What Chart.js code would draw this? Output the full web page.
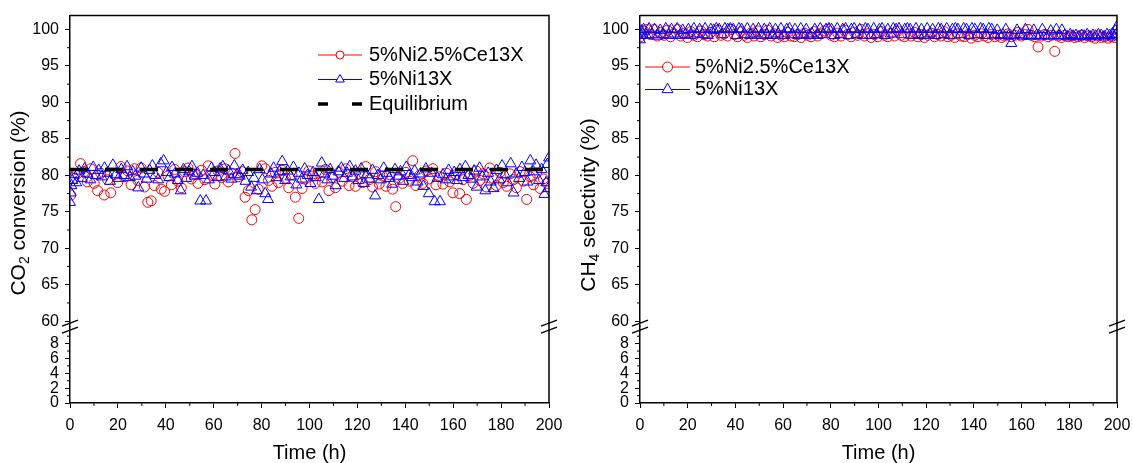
<!DOCTYPE html>
<html>
<head>
<meta charset="utf-8">
<script src="https://cdn.jsdelivr.net/npm/chart.js@4.4.0/dist/chart.umd.min.js"></script>
<style>
  html, body { margin: 0; padding: 0; background: #fff; }
  #wrap { position: relative; width: 1132px; height: 463px; }
  .panel { position: absolute; top: 0; width: 566px; height: 463px; }
</style>
</head>
<body>
<div id="wrap">
  <div class="panel" style="left:0"><canvas id="co2Chart" width="566" height="463"></canvas></div>
  <div class="panel" style="left:566px"><canvas id="ch4Chart" width="566" height="463"></canvas></div>
</div>
<script>
const FONT = '"Liberation Sans", Arial, Helvetica, sans-serif';
const RED = '#ff0000';
const BLUE = '#0000ff';

// 5%Ni2.5%Ce13X sampling times (h) and values
const timeNiCe = [0.3, 1.6, 3.0, 4.4, 5.9, 7.2, 8.6, 10.1, 11.5, 12.8, 14.3, 15.7, 17.0, 18.5, 19.9, 21.3, 22.6, 24.1, 25.5, 26.9,
  28.3, 29.7, 31.1, 32.5, 33.9, 35.2, 36.7, 38.1, 39.5, 40.9, 42.3, 43.7, 45.0, 46.5, 47.9, 49.3, 50.7, 52.1, 53.4, 54.9,
  56.3, 57.7, 59.1, 60.5, 61.8, 63.3, 64.7, 66.1, 67.5, 68.9, 70.2, 71.7, 73.1, 74.5, 75.9, 77.3, 78.6, 80.1, 81.5, 82.9,
  84.3, 85.7, 87.0, 88.5, 89.9, 91.3, 92.7, 94.1, 95.5, 96.9, 98.3, 99.7, 101.1, 102.4, 103.9, 105.3, 106.7, 108.1, 109.5, 110.8,
  112.3, 113.7, 115.1, 116.5, 117.9, 119.2, 120.7, 122.1, 123.5, 124.9, 126.3, 127.6, 129.1, 130.5, 131.9, 133.3, 134.7, 136.0, 137.5, 138.9,
  140.3, 141.7, 143.1, 144.4, 145.9, 147.3, 148.7, 150.1, 151.5, 152.8, 154.3, 155.7, 157.1, 158.5, 159.9, 161.2, 162.7, 164.1, 165.5, 166.9,
  168.3, 169.6, 171.1, 172.5, 173.9, 175.3, 176.7, 178.0, 179.5, 180.9, 182.3, 183.7, 185.1, 186.4, 187.9, 189.3, 190.7, 192.1, 193.5, 194.8,
  196.3, 197.7, 199.1];
const co2NiCe = [77.3, 79.6, 80.2, 81.6, 80.5, 79.1, 80.9, 78.9, 77.9, 80.3, 77.3, 79.4, 77.6, 80.1, 79.0, 81.2, 79.8, 80.6, 78.7, 80.9,
  79.3, 81.0, 78.4, 76.3, 76.5, 78.6, 80.4, 78.1, 77.8, 79.9, 78.7, 80.8, 79.2, 78.3, 80.5, 81.0, 79.5, 80.2, 78.9, 80.7,
  79.4, 81.3, 80.0, 78.8, 80.6, 79.7, 80.9, 79.1, 80.3, 83.0, 79.8, 80.5, 77.0, 77.9, 73.9, 75.3, 78.1, 81.3, 80.9, 79.3,
  78.5, 80.4, 79.0, 80.7, 79.6, 78.3, 80.1, 77.0, 74.1, 78.2, 79.5, 80.6, 79.9, 78.9, 80.3, 79.1, 80.8, 77.9, 79.7, 78.3,
  80.4, 79.2, 80.9, 78.6, 79.8, 78.5, 80.2, 79.0, 81.2, 79.4, 78.4, 80.5, 78.8, 79.9, 78.5, 80.1, 78.1, 75.7, 79.6, 78.9,
  80.4, 79.2, 82.0, 78.6, 80.0, 78.9, 80.6, 79.5, 80.9, 78.7, 79.8, 78.8, 80.3, 79.1, 77.6, 80.1, 77.5, 79.4, 76.7, 80.0,
  78.9, 80.6, 79.3, 80.2, 78.4, 81.0, 79.6, 78.6, 80.4, 79.0, 78.5, 80.2, 79.4, 78.3, 80.5, 79.2, 76.7, 79.8, 78.7, 80.3,
  78.2, 79.5, 78.9];
const ch4NiCe = [99.0, 99.8, 100.0, 99.3, 100.0, 99.1, 99.6, 99.2, 99.9, 99.0, 99.4, 100.0, 99.1, 99.5, 98.9, 99.7, 99.2, 99.0, 99.8, 99.3,
  99.1, 99.6, 99.0, 99.9, 99.2, 99.4, 99.1, 100.0, 99.3, 99.0, 99.7, 99.2, 98.9, 99.5, 99.1, 99.8, 99.0, 99.3, 99.9, 99.1,
  99.4, 98.9, 99.2, 99.0, 99.6, 99.1, 99.0, 99.3, 98.9, 99.5, 99.2, 99.0, 99.7, 99.1, 99.4, 99.8, 100.0, 99.2, 99.0, 99.5,
  99.1, 99.9, 99.3, 99.0, 99.6, 99.2, 100.0, 99.1, 99.4, 98.9, 99.3, 99.0, 99.7, 99.2, 99.0, 99.5, 99.1, 99.8, 99.2, 99.0,
  99.4, 99.1, 99.6, 99.0, 99.3, 98.9, 99.2, 99.5, 99.0, 99.3, 99.1, 99.7, 99.0, 99.2, 98.9, 99.4, 99.1, 99.0, 99.3, 98.8,
  99.2, 99.0, 99.4, 99.1, 98.9, 99.3, 99.0, 99.2, 98.9, 99.1, 99.4, 99.0, 99.2, 99.6, 99.1, 99.3, 100.0, 99.2, 99.0, 97.6,
  99.1, 99.3, 99.0, 99.2, 97.0, 99.1, 98.9, 99.2, 99.0, 99.1, 98.9, 99.0, 99.2, 98.9, 99.1, 99.0, 98.8, 99.1, 98.9, 99.0,
  98.8, 99.0, 98.9];

// 5%Ni13X sampling times (h) and values
const timeNi = [0.0, 0.3, 0.6, 1.0, 1.5, 2.6, 3.8, 5.0, 6.1, 7.3, 8.5, 9.7, 10.8, 12.0, 13.2, 14.4, 15.6, 16.7, 17.9, 19.1,
  20.3, 21.4, 22.6, 23.8, 25.0, 26.2, 27.3, 28.5, 29.7, 30.9, 32.0, 33.2, 34.4, 35.6, 36.8, 37.9, 39.1, 40.3, 41.5, 42.6,
  43.8, 45.0, 46.2, 47.4, 48.5, 49.7, 50.9, 52.1, 53.2, 54.4, 55.6, 56.8, 58.0, 59.1, 60.3, 61.5, 62.7, 63.8, 65.0, 66.2,
  67.4, 68.6, 69.7, 70.9, 72.1, 73.3, 74.4, 75.6, 76.8, 78.0, 79.2, 80.3, 81.5, 82.7, 83.9, 85.0, 86.2, 87.4, 88.6, 89.8,
  90.9, 92.1, 93.3, 94.5, 95.6, 96.8, 98.0, 99.2, 100.4, 101.5, 102.7, 103.9, 105.1, 106.2, 107.4, 108.6, 109.8, 111.0, 112.1, 113.3,
  114.5, 115.7, 116.8, 118.0, 119.2, 120.4, 121.6, 122.7, 123.9, 125.1, 126.3, 127.4, 128.6, 129.8, 131.0, 132.2, 133.3, 134.5, 135.7, 136.9,
  138.0, 139.2, 140.4, 141.6, 142.8, 143.9, 145.1, 146.3, 147.5, 148.6, 149.8, 151.0, 152.2, 153.4, 154.5, 155.7, 156.9, 158.1, 159.2, 160.4,
  161.6, 162.8, 164.0, 165.1, 166.3, 167.5, 168.7, 169.8, 171.0, 172.2, 173.4, 174.6, 175.7, 176.9, 178.1, 179.3, 180.4, 181.6, 182.8, 184.0,
  185.2, 186.3, 187.5, 188.7, 189.9, 191.0, 192.2, 193.4, 194.6, 195.8, 196.9, 198.1, 198.8, 199.3, 199.7, 200.0];
const co2Ni = [76.3, 77.6, 78.6, 79.3, 80.1, 79.0, 80.6, 79.6, 80.9, 80.2, 79.4, 81.1, 80.0, 80.7, 79.8, 81.0, 80.3, 79.2, 81.4, 80.1,
  79.6, 80.8, 80.0, 81.2, 79.7, 80.5, 79.9, 78.3, 81.0, 80.2, 79.5, 80.7, 81.3, 80.0, 79.4, 81.6, 82.0, 80.4, 79.7, 81.1,
  80.2, 79.3, 77.9, 80.8, 79.6, 80.5, 81.2, 79.9, 80.3, 76.5, 80.0, 76.5, 79.4, 81.0, 80.4, 79.7, 80.9, 81.2, 79.8, 80.6,
  79.5, 81.3, 80.1, 79.9, 80.7, 79.2, 80.4, 78.4, 79.6, 77.9, 80.8, 79.4, 77.5, 76.7, 80.2, 81.0, 79.7, 80.5, 81.9, 79.3,
  80.6, 79.8, 81.1, 78.7, 80.3, 79.5, 80.9, 80.0, 78.9, 80.4, 79.7, 76.7, 81.7, 80.2, 79.4, 80.8, 79.9, 78.6, 80.5, 81.0,
  79.6, 80.3, 81.2, 79.8, 80.6, 79.3, 80.9, 78.9, 80.1, 79.5, 80.7, 77.2, 80.0, 79.4, 81.0, 80.3, 79.6, 78.8, 80.8, 79.9,
  80.5, 79.2, 81.1, 80.0, 79.7, 80.6, 79.1, 80.2, 78.5, 80.9, 77.5, 80.3, 76.4, 79.6, 76.4, 80.1, 79.4, 80.7, 79.8, 80.4,
  79.3, 80.8, 79.7, 81.2, 80.0, 79.5, 80.6, 78.4, 81.0, 79.8, 77.9, 80.3, 79.1, 78.2, 80.7, 79.4, 81.3, 80.1, 79.0, 81.6,
  77.6, 80.2, 79.6, 81.1, 80.4, 79.1, 82.0, 80.5, 81.4, 79.3, 80.8, 77.4, 79.0, 81.5, 78.2, 82.4];
const ch4Ni = [98.6, 99.2, 99.8, 99.4, 100.0, 99.2, 100.1, 99.3, 100.0, 99.1, 99.9, 99.3, 100.1, 99.2, 100.0, 99.4, 100.1, 99.2, 99.9, 99.3,
  100.0, 99.2, 100.1, 99.4, 100.0, 99.3, 100.1, 99.2, 100.0, 99.9, 100.1, 100.0, 99.3, 100.1, 100.0, 100.1, 100.0, 99.2, 100.1, 100.0,
  99.3, 100.1, 99.2, 100.0, 99.4, 100.1, 99.2, 100.0, 99.3, 100.1, 99.2, 100.0, 99.4, 100.1, 99.2, 100.0, 100.1, 99.3, 100.0, 99.2,
  100.1, 99.3, 100.0, 99.2, 99.4, 100.0, 99.2, 100.1, 99.3, 100.0, 100.1, 100.0, 99.2, 100.1, 99.3, 100.0, 100.1, 99.2, 100.0, 100.1,
  99.3, 100.0, 99.2, 100.1, 100.0, 99.2, 100.1, 99.3, 100.0, 100.1, 99.2, 100.0, 99.4, 100.1, 100.0, 100.1, 99.3, 100.0, 100.1, 100.0,
  99.2, 100.1, 99.3, 100.0, 99.2, 100.1, 99.4, 100.0, 99.2, 100.1, 100.0, 99.3, 100.1, 99.2, 100.0, 100.1, 100.0, 99.3, 100.1, 100.0,
  99.2, 100.1, 100.0, 99.3, 100.1, 100.0, 99.2, 100.1, 100.0, 99.3, 99.9, 99.2, 99.3, 100.0, 99.1, 98.1, 99.2, 99.9, 99.3, 99.1,
  100.0, 99.2, 99.1, 99.9, 99.2, 99.1, 100.0, 99.2, 99.1, 99.8, 99.2, 100.0, 99.1, 99.9, 99.2, 99.0, 99.3, 99.1, 99.2, 99.0,
  99.2, 99.1, 99.3, 99.0, 99.2, 99.1, 99.3, 99.2, 99.0, 99.3, 99.2, 99.4, 99.0, 99.8, 99.3, 100.4];

// thermodynamic equilibrium CO2 conversion
const equilibriumTime = [0, 200];
const equilibriumCO2 = [80.8, 80.8];

// axis ticks
const xTicks = [0, 20, 40, 60, 80, 100, 120, 140, 160, 180, 200];
const xMinor = [10, 30, 50, 70, 90, 110, 130, 150, 170, 190];
const upperTicks = [60, 65, 70, 75, 80, 85, 90, 95, 100];
const upperMinor = [62.5, 67.5, 72.5, 77.5, 82.5, 87.5, 92.5, 97.5];
const lowerTicks = [0, 2, 4, 6, 8];
const lowerMinor = [1, 3, 5, 7, 9];

const pts = (xs, ys) => xs.map((x, i) => ({ x: x, y: ys[i] }));

Chart.defaults.font.family = FONT;
Chart.defaults.color = '#000';

function drawSubTitle(ctx, parts, cx, cy) {
  const big = '21px ' + FONT, small = '14px ' + FONT;
  let total = 0;
  parts.forEach(p => { ctx.font = p.sub ? small : big; p.w = ctx.measureText(p.t).width; total += p.w; });
  ctx.save();
  ctx.translate(cx, cy);
  ctx.rotate(-Math.PI / 2);
  ctx.textBaseline = 'middle';
  ctx.textAlign = 'left';
  ctx.fillStyle = '#000';
  let x = -total / 2;
  parts.forEach(p => {
    ctx.font = p.sub ? small : big;
    ctx.fillText(p.t, x, p.sub ? 6 : 0);
    x += p.w;
  });
  ctx.restore();
}

const framePlugin = {
  id: 'frame',
  afterDraw(chart, args, opts) {
    const { ctx, chartArea: a, scales } = chart;
    ctx.save();
    // top and right frame lines
    ctx.strokeStyle = '#000';
    ctx.lineWidth = 1.5;
    ctx.beginPath();
    ctx.moveTo(a.left, a.top);
    ctx.lineTo(a.right, a.top);
    ctx.lineTo(a.right, a.bottom);
    ctx.stroke();

    // minor ticks
    ctx.lineWidth = 1;
    ctx.beginPath();
    xMinor.forEach(v => {
      const px = scales.x.getPixelForValue(v);
      ctx.moveTo(px, a.bottom);
      ctx.lineTo(px, a.bottom + 3);
    });
    upperMinor.forEach(v => {
      const py = scales.y.getPixelForValue(v);
      ctx.moveTo(a.left, py);
      ctx.lineTo(a.left - 3, py);
    });
    lowerMinor.forEach(v => {
      const py = scales.yLow.getPixelForValue(v);
      ctx.moveTo(a.left, py);
      ctx.lineTo(a.left - 3, py);
    });
    ctx.stroke();

    // axis break marks
    const yb = scales.y.bottom;
    ctx.lineWidth = 1.5;
    ctx.beginPath();
    [a.left, a.right].forEach(px => {
      [yb - 3.5, yb + 3.5].forEach(py => {
        ctx.moveTo(px - 8, py + 3);
        ctx.lineTo(px + 8, py - 3);
      });
    });
    ctx.stroke();

    // y axis title with subscript
    drawSubTitle(ctx, opts.yTitle, opts.titleX, opts.titleY);

    // legend
    const lg = opts.legend;
    ctx.font = '20px ' + FONT;
    ctx.textBaseline = 'middle';
    ctx.textAlign = 'left';
    lg.rows.forEach(r => {
      if (r.kind === 'dash') {
        ctx.strokeStyle = '#000';
        ctx.lineWidth = 3.5;
        ctx.beginPath();
        ctx.moveTo(lg.x1, r.y); ctx.lineTo(lg.x1 + 10, r.y);
        ctx.moveTo(lg.x2 - 10, r.y); ctx.lineTo(lg.x2, r.y);
        ctx.stroke();
      } else {
        ctx.strokeStyle = r.color;
        ctx.lineWidth = 1;
        ctx.beginPath();
        ctx.moveTo(lg.x1, r.y); ctx.lineTo(lg.x2, r.y);
        ctx.stroke();
        ctx.fillStyle = '#fff';
        Chart.helpers.drawPoint(ctx, { pointStyle: r.kind, rotation: 0, radius: r.r, borderWidth: 1 },
          (lg.x1 + lg.x2) / 2, r.y);
      }
      ctx.fillStyle = '#000';
      ctx.fillText(r.text, lg.textX, r.y);
    });
    ctx.restore();
  }
};

function axisStyle(extra) {
  return Object.assign({
    grid: { drawOnChartArea: false, drawTicks: true, tickLength: 5, tickWidth: 1, tickColor: '#000' },
    border: { display: true, color: '#000', width: 1.5 }
  }, extra);
}

function makeChart(canvas, datasets, cfg) {
  return new Chart(canvas, {
    type: 'scatter',
    data: { datasets: datasets },
    options: {
      responsive: false,
      animation: false,
      devicePixelRatio: 1,
      layout: { padding: { left: 0, right: cfg.padRight, top: 11, bottom: 0 } },
      plugins: {
        legend: { display: false },
        tooltip: { enabled: false },
        frame: cfg.frame
      },
      scales: {
        yLow: axisStyle({
          type: 'linear', position: 'left', stack: 'v', stackWeight: 77.2,
          min: 0, max: 10.29,
          afterBuildTicks: s => { s.ticks = lowerTicks.map(v => ({ value: v })); },
          afterFit: s => { s.width = cfg.axisWidth; },
          ticks: { font: { size: 16 }, padding: 6, autoSkip: false }
        }),
        y: axisStyle({
          type: 'linear', position: 'left', stack: 'v', stackWeight: 314.5,
          min: 59.25, max: 101.9,
          afterBuildTicks: s => { s.ticks = upperTicks.map(v => ({ value: v })); },
          afterFit: s => { s.width = cfg.axisWidth; },
          ticks: { font: { size: 16 }, padding: 6, autoSkip: false }
        }),
        x: axisStyle({
          type: 'linear', position: 'bottom', min: 0, max: 200,
          afterBuildTicks: s => { s.ticks = xTicks.map(v => ({ value: v })); },
          afterFit: s => { s.height = 60; s.paddingLeft = 0; s.paddingRight = 0; },
          ticks: { font: { size: 16 }, padding: 8, maxRotation: 0, autoSkip: false },
          title: { display: true, text: 'Time (h)', font: { size: 20, lineHeight: 1 }, padding: 0 }
        })
      }
    },
    plugins: [framePlugin]
  });
}

function markerSet(label, data, color, style, radius, order) {
  return {
    label: label, data: data, yAxisID: 'y',
    borderColor: color, backgroundColor: 'transparent',
    pointStyle: style, pointRadius: radius, pointBorderWidth: 1,
    pointHoverRadius: radius, order: order
  };
}

makeChart(document.getElementById('co2Chart'), [
  markerSet('5%Ni2.5%Ce13X', pts(timeNiCe, co2NiCe), RED, 'circle', 5, 3),
  markerSet('5%Ni13X', pts(timeNi, co2Ni), BLUE, 'triangle', 6.3, 2),
  {
    label: 'Equilibrium', type: 'line', data: pts(equilibriumTime, equilibriumCO2), yAxisID: 'y',
    borderColor: '#000', borderWidth: 3.5, borderDash: [18, 17], pointRadius: 0, showLine: true, order: 1
  }
], {
  padRight: 17, axisWidth: 70,
  frame: {
    yTitle: [{ t: 'CO' }, { t: '2', sub: true }, { t: ' conversion (%)' }],
    titleX: 19, titleY: 203,
    legend: {
      x1: 318, x2: 362, textX: 369,
      rows: [
        { y: 55, kind: 'circle', color: RED, r: 4, text: '5%Ni2.5%Ce13X' },
        { y: 79.5, kind: 'triangle', color: BLUE, r: 5, text: '5%Ni13X' },
        { y: 104, kind: 'dash', text: 'Equilibrium' }
      ]
    }
  }
});

makeChart(document.getElementById('ch4Chart'), [
  markerSet('5%Ni2.5%Ce13X', pts(timeNiCe, ch4NiCe), RED, 'circle', 5, 3),
  markerSet('5%Ni13X', pts(timeNi, ch4Ni), BLUE, 'triangle', 6.3, 2)
], {
  padRight: 15, axisWidth: 74,
  frame: {
    yTitle: [{ t: 'CH' }, { t: '4', sub: true }, { t: ' selectivity (%)' }],
    titleX: 23, titleY: 205,
    legend: {
      x1: 79, x2: 124, textX: 129,
      rows: [
        { y: 67, kind: 'circle', color: RED, r: 5, text: '5%Ni2.5%Ce13X' },
        { y: 89.5, kind: 'triangle', color: BLUE, r: 6.3, text: '5%Ni13X' }
      ]
    }
  }
});
</script>
</body>
</html>
